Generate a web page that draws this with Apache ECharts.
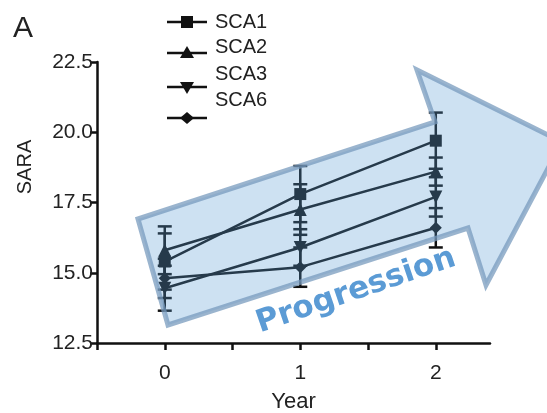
<!DOCTYPE html>
<html>
<head>
<meta charset="utf-8">
<script src="https://cdn.jsdelivr.net/npm/echarts@6/dist/echarts.min.js"></script>
<style>
  html, body { margin: 0; padding: 0; background: #fff; }
  #chart { width: 547px; height: 413px; }
</style>
</head>
<body>
<div id="chart"></div>
<script>
// 数据：各型 SARA 评分（均值 ± 误差）
const years = [0, 1, 2];
const seriesNames = ['SCA1', 'SCA2', 'SCA3', 'SCA6'];
const sca1 = [15.4, 17.8, 19.7];
const sca2 = [15.8, 17.25, 18.6];
const sca3 = [14.45, 15.9, 17.7];
const sca6 = [14.8, 15.2, 16.6];
const sca1Err = [1.0, 1.0, 1.0];
const sca2Err = [0.85, 0.9, 0.5];
const sca3Err = [0.8, 0.65, 0.7];
const sca6Err = [0.7, 0.7, 0.7];
const yTicks = [12.5, 15.0, 17.5, 20.0, 22.5];

const FONT = '"Liberation Sans", Arial, sans-serif';
const INK = '#111';

const symbols = [
  { symbol: 'rect', size: 12, rotate: 0 },
  { symbol: 'triangle', size: 13, rotate: 0 },
  { symbol: 'triangle', size: 13, rotate: 180 },
  { symbol: 'diamond', size: 12, rotate: 0 }
];
const allVals = [sca1, sca2, sca3, sca6];
const allErr = [sca1Err, sca2Err, sca3Err, sca6Err];

const chart = echarts.init(document.getElementById('chart'));

let series = [];
seriesNames.forEach((name, i) => {
  series.push({
    name: name,
    type: 'line',
    data: years.map((x, j) => [x, allVals[i][j]]),
    symbol: symbols[i].symbol,
    symbolSize: symbols[i].size,
    symbolRotate: symbols[i].rotate,
    lineStyle: { color: INK, width: 2.5 },
    itemStyle: { color: INK },
    z: 3
  });
  // 误差线
  series.push({
    name: name + ' err',
    type: 'custom',
    data: years.map((x, j) => [x, allVals[i][j], allErr[i][j]]),
    renderItem: (params, api) => {
      const x = api.value(0), y = api.value(1), e = api.value(2);
      const top = api.coord([x, y + e]);
      const bot = api.coord([x, y - e]);
      const w = 7;
      const st = { stroke: INK, lineWidth: 2.5 };
      return {
        type: 'group',
        children: [
          { type: 'line', shape: { x1: top[0], y1: top[1], x2: bot[0], y2: bot[1] }, style: st },
          { type: 'line', shape: { x1: top[0] - w, y1: top[1], x2: top[0] + w, y2: top[1] }, style: st },
          { type: 'line', shape: { x1: bot[0] - w, y1: bot[1], x2: bot[0] + w, y2: bot[1] }, style: st }
        ]
      };
    },
    z: 2
  });
});

// 图例（手动画，位置与原图一致）
const legendY = [22, 53, 87, 118];
const textY = [22, 47, 74, 100];
let graphics = [];
seriesNames.forEach((name, i) => {
  graphics.push({
    type: 'line', shape: { x1: 167, y1: legendY[i], x2: 207, y2: legendY[i] },
    style: { stroke: INK, lineWidth: 2.5 }
  });
  if (i === 0) {
    graphics.push({ type: 'rect', shape: { x: 181, y: legendY[i] - 6, width: 12, height: 12 }, style: { fill: INK } });
  } else if (i === 1) {
    graphics.push({ type: 'polygon', shape: { points: [[187, legendY[i] - 7], [194, legendY[i] + 5], [180, legendY[i] + 5]] }, style: { fill: INK } });
  } else if (i === 2) {
    graphics.push({ type: 'polygon', shape: { points: [[187, legendY[i] + 7], [194, legendY[i] - 5], [180, legendY[i] - 5]] }, style: { fill: INK } });
  } else {
    graphics.push({ type: 'polygon', shape: { points: [[187, legendY[i] - 6], [194, legendY[i]], [187, legendY[i] + 6], [180, legendY[i]]] }, style: { fill: INK } });
  }
  graphics.push({
    type: 'text', x: 215, y: textY[i],
    style: { text: name, font: '20px ' + FONT, fill: '#222', textVerticalAlign: 'middle' }
  });
});

// 面板字母 & Y轴标题
graphics.push({ type: 'text', x: 13, y: 14, style: { text: 'A', font: '30px ' + FONT, fill: '#222' } });
graphics.push({
  type: 'text', x: 25, y: 167, rotation: Math.PI / 2,
  style: { text: 'SARA', font: '20px ' + FONT, fill: '#222', textAlign: 'center', textVerticalAlign: 'middle' }
});

// 进展箭头（半透明覆盖）
graphics.push({
  type: 'polygon', z: 50,
  shape: { points: [[138, 219], [435, 122], [417, 70], [562, 142], [486, 285], [468, 228], [168, 325]] },
  style: { fill: 'rgba(91,155,213,0.3)', stroke: 'rgba(120,155,190,0.75)', lineWidth: 5, lineJoin: 'miter' }
});
graphics.push({
  type: 'text', z: 60, x: 356, y: 291, rotation: 0.33,
  style: { text: 'Progression', font: 'bold 31px "DejaVu Sans", Verdana, sans-serif', fill: '#5b9bd5', textAlign: 'center', textVerticalAlign: 'middle' }
});

chart.setOption({
  animation: false,
  grid: { left: 97, right: 57, top: 62, bottom: 70, outerBoundsMode: 'none', containLabel: false },
  xAxis: {
    type: 'value', min: -0.5, max: 2.4, interval: 0.5,
    name: 'Year', nameLocation: 'middle', nameGap: 48,
    nameTextStyle: { fontFamily: FONT, fontSize: 22, color: '#222' },
    axisLine: { onZero: false, lineStyle: { color: INK, width: 2.5 } },
    axisTick: { length: 7, lineStyle: { color: INK, width: 2.5 } },
    axisLabel: {
      fontFamily: FONT, fontSize: 21, color: '#222', margin: 20,
      formatter: v => (Number.isInteger(v) && v >= 0 ? String(v) : ''),
      showMaxLabel: false
    },
    splitLine: { show: false }
  },
  yAxis: {
    type: 'value', min: yTicks[0], max: yTicks[yTicks.length - 1], interval: 2.5,
    axisLine: { show: true, onZero: false, lineStyle: { color: INK, width: 2.5 } },
    axisTick: { show: true, length: 7, lineStyle: { color: INK, width: 2.5 } },
    axisLabel: { fontFamily: FONT, fontSize: 21, color: '#222', margin: 4, formatter: v => v.toFixed(1) },
    splitLine: { show: false }
  },
  graphic: graphics,
  series: series
});
</script>
</body>
</html>
